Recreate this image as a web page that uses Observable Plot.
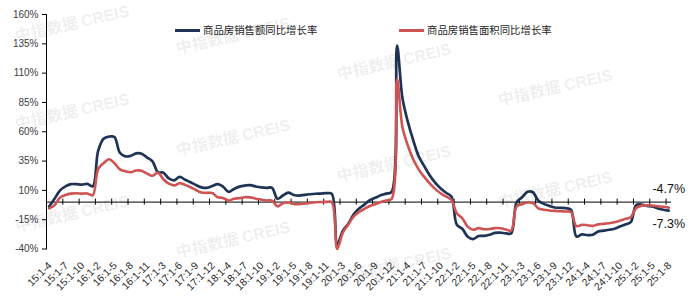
<!DOCTYPE html>
<html><head><meta charset="utf-8">
<script src="https://cdn.jsdelivr.net/npm/d3@7"></script>
<script src="https://cdn.jsdelivr.net/npm/@observablehq/plot@0.6"></script>
<style>
body{margin:0;background:#fff;}
#wrap{position:relative;width:697px;height:297px;overflow:hidden;}
.leg{position:absolute;top:23px;height:14px;font-family:"Noto Sans CJK SC",sans-serif;font-size:10.4px;color:#262626;line-height:14px;white-space:nowrap;display:flex;align-items:center;}
.leg i{display:inline-block;width:25px;height:3px;margin-right:3px;}
.wm{position:absolute;height:18px;line-height:18px;font-family:"Noto Sans CJK SC",sans-serif;font-weight:bold;font-size:16px;color:rgba(0,0,0,0.085);transform:rotate(-13deg);transform-origin:0 100%;white-space:nowrap;pointer-events:none;}
.wm b{font-family:"Liberation Sans",Arial,sans-serif;}
</style>
</head><body>
<div id="wrap"></div>
<script>
// ---- data ----
const years = ["15","16","17","18","19","20","21","22","23","24","25"];
const monthsFirstYear = ["1-4","1-5","1-6","1-7","1-8","1-9","1-10","1-11","1-12"];
const monthsFull = ["1-2","1-3","1-4","1-5","1-6","1-7","1-8","1-9","1-10","1-11","1-12"];
const monthsLastYear = ["1-2","1-3","1-4","1-5","1-6","1-7","1-8"];

// 商品房销售额同比增长率 (%)
const amountYoY = [
  -3.8, 3.0, 10.0, 13.4, 15.3, 15.3, 14.9, 15.6, 13.5,
  43.6, 54.1, 55.9, 55.5, 42.1, 39.0, 39.5, 41.5, 41.3, 38.0, 34.8,
  25.5, 25.1, 20.2, 18.6, 21.5, 19.1, 16.9, 14.6, 12.6, 12.2, 13.7,
  15.3, 13.1, 8.7, 11.2, 13.2, 14.1, 14.5, 13.3, 12.5, 12.1, 12.2,
  2.8, 5.6, 8.1, 6.1, 5.6, 6.2, 6.7, 7.1, 7.3, 7.6, 7.0,
  -35.9, -24.7, -18.6, -10.6, -5.4, -2.1, 1.6, 3.7, 5.8, 7.2, 8.7,
  133.4, 88.5, 68.2, 52.4, 38.9, 30.7, 22.8, 16.6, 11.8, 8.0, 4.8,
  -19.3, -22.7, -29.5, -31.5, -28.9, -28.8, -27.9, -26.3, -26.1, -26.6, -26.7,
  -0.1, 4.1, 8.8, 8.4, 1.1, -1.5, -3.2, -4.6, -4.9, -5.2, -6.5,
  -29.3, -27.6, -28.1, -27.9, -25.0, -24.3, -23.6, -22.7, -20.9, -19.2, -17.1,
  -2.6, -2.1, -3.2, -3.8, -5.5, -6.5, -7.3
];
// 商品房销售面积同比增长率 (%)
const areaYoY = [
  -5.4, -2.6, 3.9, 6.1, 7.2, 7.5, 7.2, 7.4, 5.8,
  28.2, 33.1, 36.5, 33.2, 27.9, 26.4, 25.5, 26.9, 26.8, 24.3, 22.5,
  25.1, 19.5, 15.7, 14.3, 16.1, 14.7, 12.7, 10.3, 8.2, 7.9, 7.7,
  4.1, 3.6, 1.3, 2.9, 3.3, 4.2, 4.0, 2.9, 2.2, 1.4, 1.3,
  -3.6, -0.9, -0.3, -1.6, -1.8, -1.3, -0.6, -0.1, 0.1, 0.2, -0.1,
  -39.9, -26.3, -19.3, -12.3, -8.4, -5.8, -3.3, -1.8, 0.0, 1.3, 2.6,
  104.9, 63.8, 48.1, 36.3, 27.7, 21.5, 15.9, 11.3, 7.5, 4.8, 1.9,
  -9.6, -13.8, -20.9, -23.6, -22.2, -23.1, -23.0, -22.2, -22.3, -23.3, -24.3,
  -3.6, -1.8, -0.4, -0.9, -5.3, -6.5, -7.1, -7.5, -7.8, -8.0, -8.5,
  -20.5, -19.4, -19.7, -20.3, -19.0, -18.6, -18.0, -17.1, -15.8, -14.3, -12.9,
  -5.1, -3.0, -2.8, -2.9, -3.5, -4.0, -4.7
];
const yTicks = [-40, -15, 10, 35, 60, 85, 110, 135, 160];
const labelEvery = 3;
const seriesNames = ["商品房销售额同比增长率", "商品房销售面积同比增长率"];
const colors = ["#1f3354", "#d05353"];

// ---- build ----
const categories = [];
years.forEach((y, k) => {
  const ms = k === 0 ? monthsFirstYear : (k === years.length - 1 ? monthsLastYear : monthsFull);
  ms.forEach(m => categories.push(y + ":" + m));
});
const data = categories.map((c, i) => ({i, c, amount: amountYoY[i], area: areaYoY[i]}));
const labelData = data.filter(d => d.i % labelEvery === 0);
const tickBounds = labelData.slice(1).map(d => d.i - 0.5);
const last = data[data.length - 1];

const chart = Plot.plot({
  width: 697, height: 297,
  marginLeft: 46, marginRight: 26, marginTop: 14, marginBottom: 48.5,
  style: {fontFamily: "'Liberation Sans', Arial, sans-serif", color: "#404040", background: "transparent"},
  x: {domain: [-0.5, data.length - 0.5], axis: null},
  y: {domain: [-40, 160], axis: null},
  marks: [
    Plot.axisY({ticks: yTicks, tickFormat: d => d + "%", tickSize: 4, tickPadding: 4, fontSize: 10, stroke: "#000"}),
    Plot.frame({anchor: "left", stroke: "#000"}),
    Plot.ruleY([0], {stroke: "#000", strokeWidth: 1}),
    Plot.ruleX(tickBounds, {y1: 0, y2: 0, insetTop: -3, insetBottom: -3, stroke: "#000"}),
    Plot.line(data, {x: "i", y: "amount", stroke: colors[0], strokeWidth: 2.7, curve: "catmull-rom"}),
    Plot.line(data, {x: "i", y: "area", stroke: colors[1], strokeWidth: 2.6, curve: "catmull-rom"}),
    Plot.text(labelData, {x: "i", text: "c", frameAnchor: "bottom", rotate: -45, textAnchor: "end", lineAnchor: "top", dy: 12, dx: -2, fontSize: 10.3, fill: "#262626"}),
    Plot.text([last], {x: "i", y: "area", text: d => d.area + "%", dy: -19, fontSize: 12.5, fill: "#111"}),
    Plot.text([last], {x: "i", y: "amount", text: d => d.amount + "%", dy: 13, fontSize: 12.5, fill: "#111"})
  ]
});
const wrap = document.getElementById("wrap");
wrap.appendChild(chart);

// legend
const legPos = [175, 399];
seriesNames.forEach((n, k) => {
  const d = document.createElement("div");
  d.className = "leg";
  d.style.left = legPos[k] + "px";
  d.innerHTML = `<i style="background:${colors[k]}"></i>${n}`;
  wrap.appendChild(d);
});
// watermark (only those fully inside the picture)
const wmSpots = [[17, 44], [17, 132], [17, 234], [178, 56], [178, 158], [178, 260], [339, 82], [339, 184], [339, 286], [500, 108], [500, 210]];
wmSpots.forEach(([x, y]) => {
  const w = document.createElement("div");
  w.className = "wm";
  w.style.left = x + "px";
  w.style.top = (y - 18) + "px";
  w.innerHTML = "中指数据 <b>CREIS</b>";
  wrap.appendChild(w);
});
</script>
</body></html>
